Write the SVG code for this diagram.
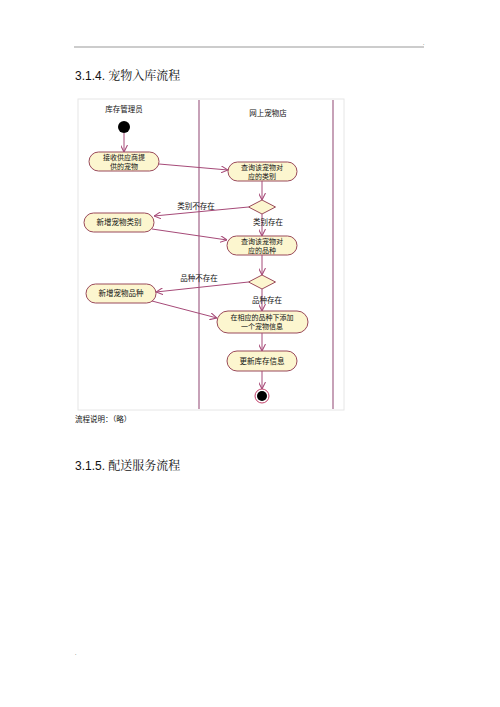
<svg xmlns="http://www.w3.org/2000/svg" width="500" height="707" viewBox="0 0 500 707">
<defs>
<marker id="ah" viewBox="0 0 10 10" refX="10" refY="5" markerWidth="7" markerHeight="7" orient="auto" markerUnits="userSpaceOnUse">
<path d="M0,0 L10,5 L0,10" fill="none" stroke="#a64a78" stroke-width="1.5"/>
</marker>
</defs>
<style>
.h{font-family:"Liberation Sans","Noto Sans CJK SC",sans-serif;fill:#111}
.t{font-family:"Noto Sans CJK SC",sans-serif;font-size:7.5px;fill:#111;text-anchor:middle}
.t2{font-size:7px}
.act{fill:#fcf6cf;stroke:#9a4a5a;stroke-width:1}
.dia{fill:#fcf6cf;stroke:#9a4a5a;stroke-width:1}
.lane{stroke:#b98aa6;stroke-width:1.6;fill:none}
.c{stroke:#a64a78;stroke-width:1;fill:none;marker-end:url(#ah)}
</style>
<rect width="500" height="707" fill="#fff"/>
<line x1="74" y1="47" x2="424" y2="47" stroke="#999" stroke-width="1"/>
<text x="423" y="45" class="h" font-size="5" fill="#999">.</text>
<text x="75" y="80" class="h" font-size="12">3.1.4. <tspan font-family="Noto Serif CJK SC, Noto Sans CJK SC, serif">宠物入库流程</tspan></text>
<rect x="78" y="99" width="266" height="311" fill="#fff" stroke="#e6e6e6" stroke-width="1"/>
<g id="lanes">
<line class="lane" x1="199" y1="100" x2="199" y2="409"/>
<line class="lane" x1="333" y1="100" x2="333" y2="409"/>
<text x="124" y="112" class="t">库存管理员</text>
<text x="268" y="116" class="t">网上宠物店</text>
</g>
<g id="start"><circle cx="124" cy="127" r="6" fill="#000"/></g>
<g id="a1"><rect class="act" x="89" y="152" width="70" height="19" rx="9.5"/><text class="t t2" x="124" y="159.5">接收供应商提</text><text class="t t2" x="124" y="168.5">供的宠物</text></g>
<g id="a2"><rect class="act" x="228" y="162" width="69" height="19" rx="9.5"/><text class="t t2" x="262" y="169.5">查询该宠物对</text><text class="t t2" x="262" y="178.5">应的类别</text></g>
<g id="d1"><polygon class="dia" points="262,200 275.5,207 262,214 248.5,207"/></g>
<g id="a3"><rect class="act" x="84" y="213" width="70" height="19" rx="9.5"/><text class="t" x="119" y="225">新增宠物类别</text></g>
<g id="a4"><rect class="act" x="227" y="236" width="70" height="19" rx="9.5"/><text class="t t2" x="262" y="243.5">查询该宠物对</text><text class="t t2" x="262" y="252.5">应的品种</text></g>
<g id="d2"><polygon class="dia" points="262,275 275.5,282 262,289 248.5,282"/></g>
<g id="a5"><rect class="act" x="86" y="284" width="70" height="19" rx="9.5"/><text class="t" x="121" y="296">新增宠物品种</text></g>
<g id="a6"><rect class="act" x="217" y="311" width="91" height="22" rx="11"/><text class="t t2" x="262" y="319.5">在相应的品种下添加</text><text class="t t2" x="262" y="329">一个宠物信息</text></g>
<g id="a7"><rect class="act" x="227" y="351" width="70" height="20" rx="10"/><text class="t" x="262" y="364">更新库存信息</text></g>
<g id="end"><circle cx="262" cy="396" r="7" fill="#fff" stroke="#c2406a" stroke-width="1"/><circle cx="262" cy="396" r="5" fill="#000"/></g>
<g id="connectors">
<line class="c" x1="124" y1="133" x2="124" y2="152"/>
<line class="c" x1="159" y1="164" x2="228" y2="170"/>
<line class="c" x1="262" y1="181" x2="262" y2="200"/>
<line class="c" x1="248.5" y1="207" x2="154" y2="216"/>
<line class="c" x1="262" y1="214" x2="262" y2="236"/>
<line class="c" x1="152" y1="229" x2="227" y2="240"/>
<line class="c" x1="262" y1="255" x2="262" y2="275"/>
<line class="c" x1="248.5" y1="282" x2="156" y2="292"/>
<line class="c" x1="262" y1="289" x2="262" y2="311"/>
<line class="c" x1="152" y1="301" x2="217" y2="318"/>
<line class="c" x1="262" y1="333" x2="262" y2="351"/>
<line class="c" x1="262" y1="371" x2="262" y2="389"/>
<text x="196" y="209" class="t">类别不存在</text>
<text x="268" y="225" class="t">类别存在</text>
<text x="199" y="281" class="t">品种不存在</text>
<text x="267" y="303" class="t">品种存在</text>
</g>
<text x="75" y="422" class="h" font-size="7.5" font-family="Noto Sans CJK SC, sans-serif">流程说明：（略）</text>
<text x="75" y="470" class="h" font-size="12">3.1.5. <tspan font-family="Noto Serif CJK SC, Noto Sans CJK SC, serif">配送服务流程</tspan></text>
<text x="75" y="655" class="h" font-size="5" fill="#999">.</text>
</svg>
